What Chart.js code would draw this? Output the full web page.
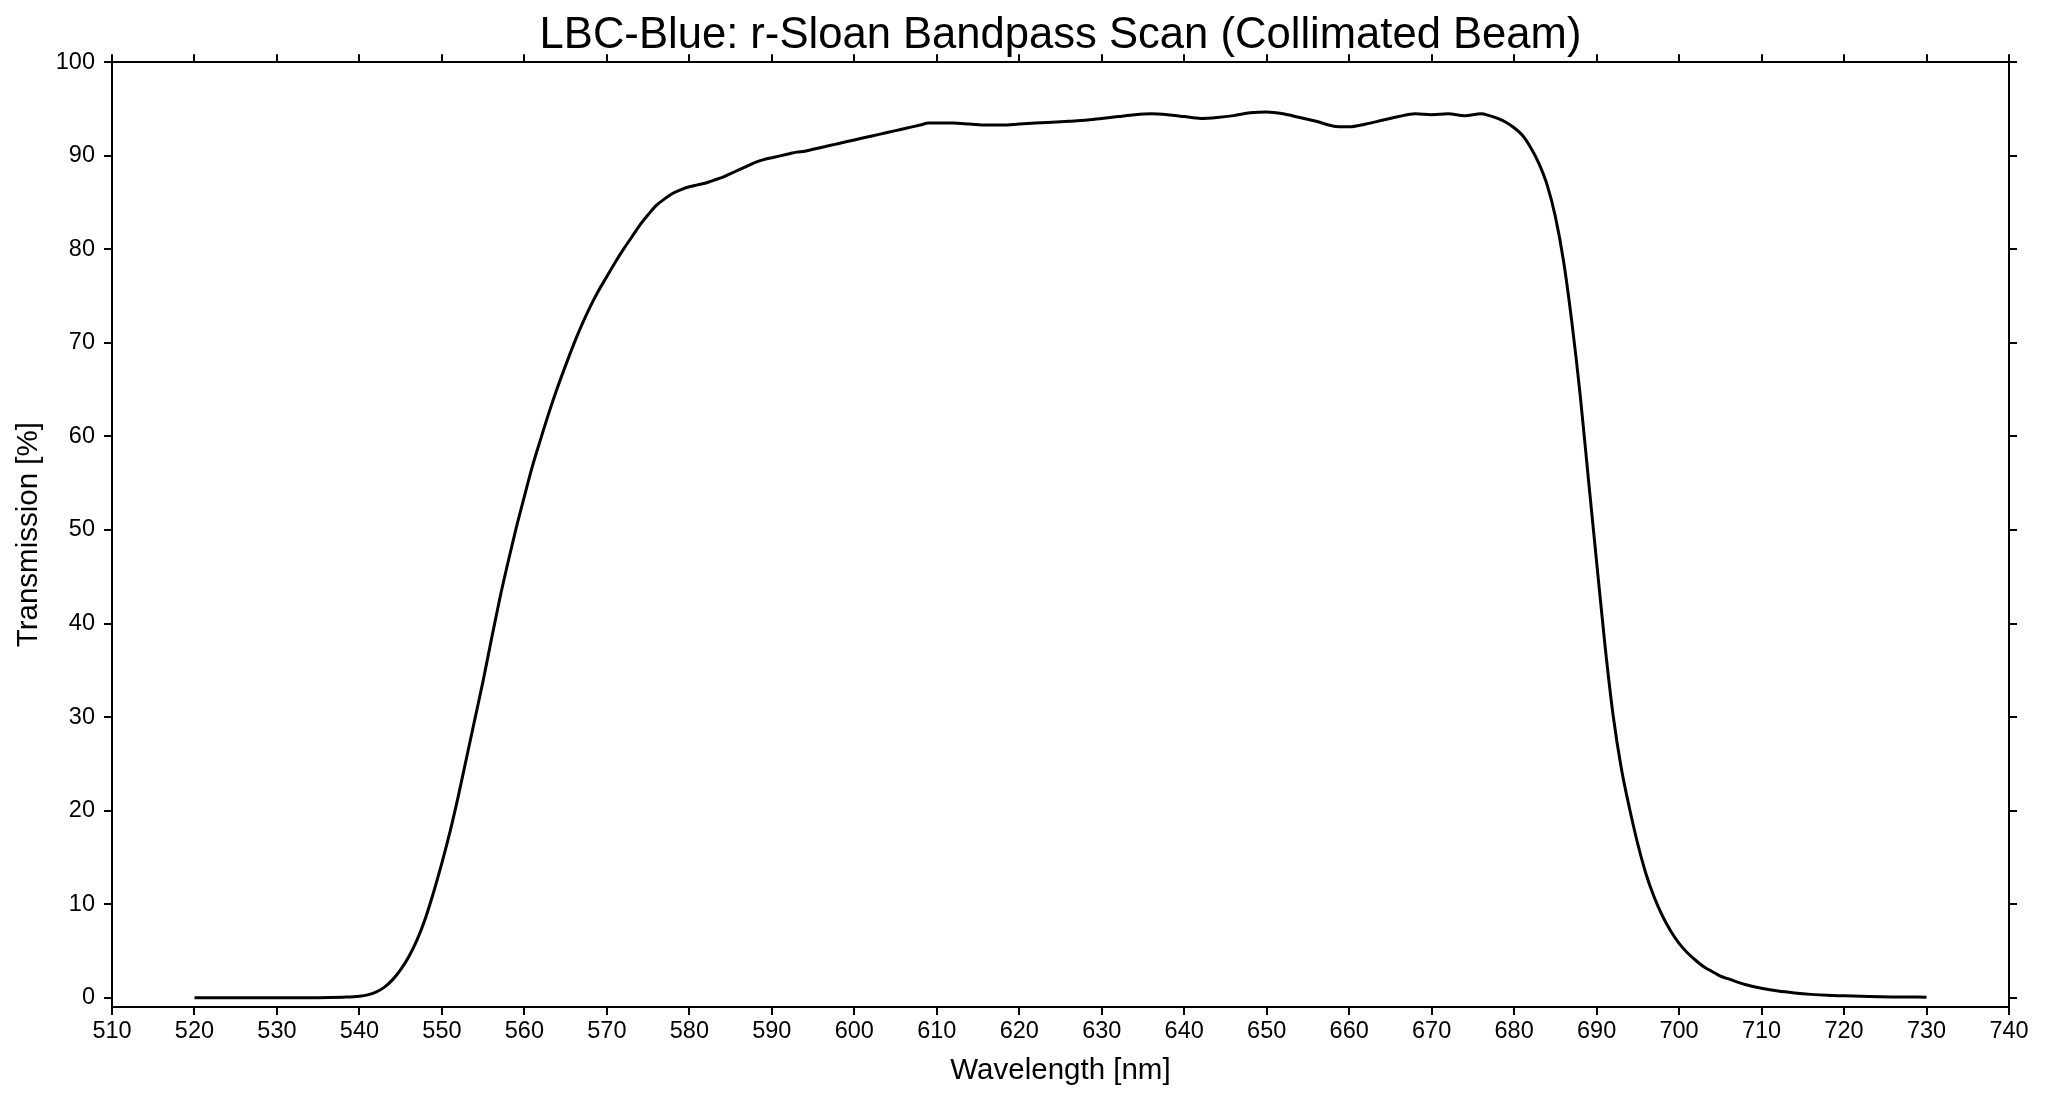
<!DOCTYPE html>
<html>
<head>
<meta charset="utf-8">
<title>LBC-Blue r-Sloan Bandpass Scan</title>
<script src="https://cdn.jsdelivr.net/npm/chart.js@4.4.0/dist/chart.umd.min.js"></script>
<style>
  html, body { margin: 0; padding: 0; background: #fff; }
  #wrap { width: 2048px; height: 1102px; position: relative; }
</style>
</head>
<body>
<div id="wrap"><canvas id="chart-bandpass"></canvas></div>
<script>
// Wavelength samples [nm] and transmission [%]
const wavelengths = [
  520, 525, 530, 535, 538, 540, 541, 542, 543, 544, 545, 546, 547, 548, 549,
  550, 551, 552, 553, 554, 555, 556, 557, 558, 559, 560, 561, 562, 563, 564,
  565, 566, 567, 568, 569, 570, 571, 572, 573, 574, 575, 576, 577, 578, 579,
  580, 581, 582, 583, 584, 585, 586, 587, 588, 589, 590, 591, 592, 593, 594,
  595, 596, 597, 598, 599, 600, 601, 602, 603, 604, 605, 606, 607, 608, 609,
  610, 612, 614, 616, 618, 620, 622, 624, 626, 628, 630, 632, 634, 636, 638,
  640, 642, 644, 646, 648, 650, 652, 654, 656, 658, 660, 662, 664, 666, 668,
  670, 672, 674, 676, 677, 678, 679, 680, 681, 682, 683, 684, 685, 686, 687,
  688, 689, 690, 691, 692, 693, 694, 695, 696, 697, 698, 699, 700, 701, 702,
  703, 704, 705, 706, 708, 710, 712, 714, 716, 718, 720, 723, 726, 730
];
const transmission = [
  0.0, 0.0, 0.0, 0.0, 0.05, 0.15, 0.3, 0.6, 1.1, 1.9, 3.0, 4.4, 6.2, 8.5, 11.3,
  14.4, 17.8, 21.6, 25.7, 29.8, 33.9, 38.3, 42.6, 46.5, 50.2, 53.6, 56.9, 59.8, 62.6, 65.2,
  67.6, 69.9, 72.0, 73.9, 75.6, 77.1, 78.6, 80.0, 81.3, 82.6, 83.7, 84.7, 85.4, 86.0, 86.4,
  86.7, 86.9, 87.1, 87.4, 87.7, 88.1, 88.5, 88.9, 89.3, 89.6, 89.8, 90.0, 90.2, 90.4, 90.5,
  90.7, 90.9, 91.1, 91.3, 91.5, 91.7, 91.9, 92.1, 92.3, 92.5, 92.7, 92.9, 93.1, 93.3, 93.5,
  93.5, 93.5, 93.4, 93.3, 93.3, 93.4, 93.5, 93.6, 93.7, 93.8, 94.0, 94.2, 94.4, 94.5, 94.4,
  94.2, 94.0, 94.1, 94.3, 94.6, 94.7, 94.5, 94.1, 93.7, 93.2, 93.1, 93.4, 93.8, 94.2, 94.5,
  94.4, 94.5, 94.3, 94.5, 94.3, 94.0, 93.6, 93.0, 92.2, 90.9, 89.2, 86.9, 83.5, 78.7, 72.2,
  64.5, 55.5, 46.6, 37.8, 30.2, 24.5, 20.2, 16.4, 13.2, 10.7, 8.7, 7.1, 5.8, 4.8, 4.0,
  3.3, 2.8, 2.3, 2.0, 1.4, 1.0, 0.7, 0.5, 0.35, 0.25, 0.2, 0.12, 0.08, 0.05
];

// Axis tick values
const xTicks = [510, 520, 530, 540, 550, 560, 570, 580, 590, 600, 610, 620, 630, 640,
  650, 660, 670, 680, 690, 700, 710, 720, 730, 740];
const yTicks = [0, 10, 20, 30, 40, 50, 60, 70, 80, 90, 100];

const FONT = "'Liberation Sans', Arial, Helvetica, sans-serif";

// shared look of the frame: black border, short outward tick marks, no grid
function frameScale(extra) {
  return Object.assign({
    border: { display: true, color: '#000', width: 2 },
    grid: { drawOnChartArea: false, drawTicks: true, tickLength: 8, color: '#000', lineWidth: 2 }
  }, extra);
}

// centre the title over the plot area rather than the whole canvas
const titleOverPlot = {
  id: 'titleOverPlot',
  afterLayout: function(chart) {
    const t = chart.titleBlock;
    if (!t) return;
    t.left = chart.chartArea.left;
    t.right = chart.chartArea.right;
    t.width = t.right - t.left;
  }
};

const ctx = document.getElementById('chart-bandpass');

new Chart(ctx, {
  type: 'line',
  data: {
    datasets: [{
      label: 'r-Sloan',
      data: wavelengths.map((w, i) => ({ x: w, y: transmission[i] })),
      borderColor: '#000',
      borderWidth: 3,
      pointRadius: 0,
      fill: false,
      cubicInterpolationMode: 'monotone'
    }]
  },
  plugins: [titleOverPlot],
  options: {
    responsive: true,
    maintainAspectRatio: false,
    animation: false,
    layout: { padding: 0 },
    plugins: {
      legend: { display: false },
      tooltip: { enabled: false },
      title: {
        display: true,
        text: 'LBC-Blue: r-Sloan Bandpass Scan (Collimated Beam)',
        color: '#000',
        font: { family: FONT, size: 43.6, weight: 'normal', lineHeight: 1.2 },
        padding: { top: 10, bottom: 0 }
      }
    },
    scales: {
      x: frameScale({
        type: 'linear',
        position: 'bottom',
        min: 510,
        max: 740,
        afterBuildTicks: function(scale) {
          scale.ticks = xTicks.map(v => ({ value: v }));
        },
        afterFit: function(scale) { scale.height = 95; },
        ticks: {
          autoSkip: false,
          maxRotation: 0,
          padding: 2,
          color: '#000',
          font: { family: FONT, size: 23.5 }
        },
        title: {
          display: true,
          text: 'Wavelength [nm]',
          color: '#000',
          font: { family: FONT, size: 29.5, lineHeight: 1.2 },
          padding: { top: 0, bottom: 13 }
        }
      }),
      x2: frameScale({
        type: 'linear',
        position: 'top',
        min: 510,
        max: 740,
        afterBuildTicks: function(scale) {
          scale.ticks = xTicks.map(v => ({ value: v }));
        },
        afterFit: function(scale) { scale.height = 0; },
        ticks: { display: false }
      }),
      y: frameScale({
        type: 'linear',
        position: 'left',
        min: -1,
        max: 100,
        afterBuildTicks: function(scale) {
          scale.ticks = yTicks.map(v => ({ value: v }));
        },
        afterFit: function(scale) { scale.width = 112; },
        ticks: {
          padding: 9,
          color: '#000',
          font: { family: FONT, size: 23.5 }
        },
        title: {
          display: true,
          text: 'Transmission [%]',
          color: '#000',
          font: { family: FONT, size: 29.5, lineHeight: 1.2 },
          padding: { top: 11, bottom: 0 }
        }
      }),
      y2: frameScale({
        type: 'linear',
        position: 'right',
        min: -1,
        max: 100,
        afterBuildTicks: function(scale) {
          scale.ticks = yTicks.map(v => ({ value: v }));
        },
        afterFit: function(scale) { scale.width = 39; },
        ticks: { display: false }
      })
    }
  }
});
</script>
</body>
</html>
